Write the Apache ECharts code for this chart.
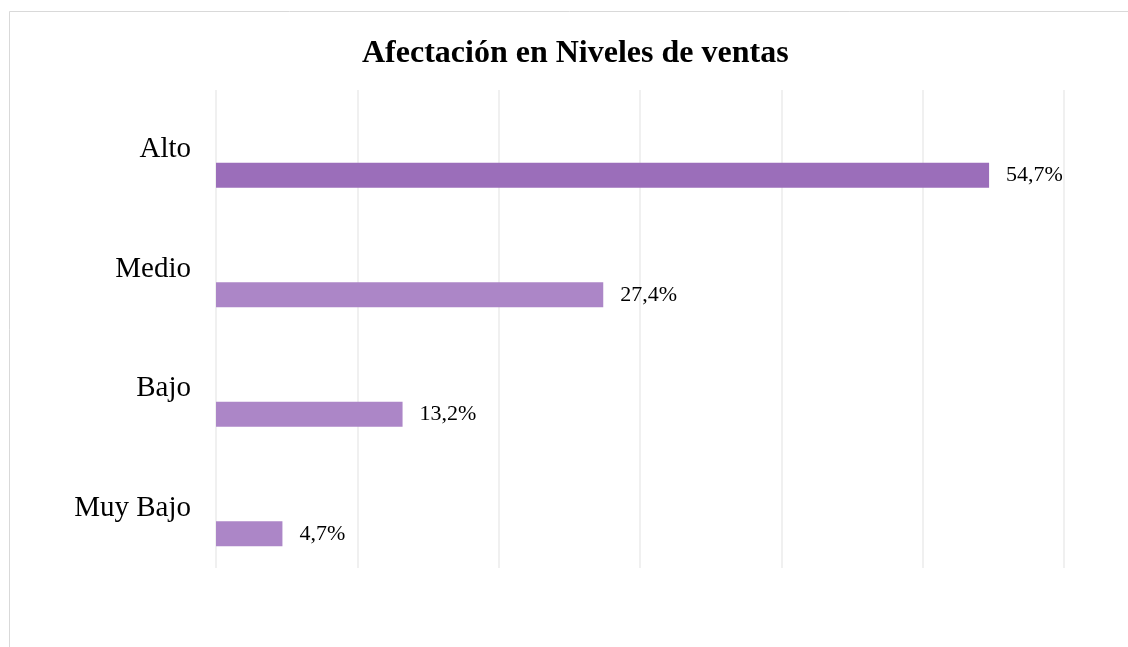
<!DOCTYPE html>
<html>
<head>
<meta charset="utf-8">
<script src="https://cdn.jsdelivr.net/npm/echarts@6/dist/echarts.min.js"></script>
<style>
  html, body { margin: 0; padding: 0; background: #fff; }
  #chart { width: 1128px; height: 647px; }
</style>
</head>
<body>
<div id="chart"></div>
<script>
// data (bottom to top on the category axis)
var categories = ['Muy Bajo', 'Bajo', 'Medio', 'Alto'];
var values = [4.7, 13.2, 27.4, 54.7];
var highlight = 'Alto';

var chart = echarts.init(document.getElementById('chart'));
var serif = "'Liberation Serif', 'Times New Roman', serif";

var option = {
    backgroundColor: '#fff',
    animation: false,
    title: {
        text: 'Afectación en Niveles de ventas',
        left: 357,
        top: 33,
        textStyle: { fontFamily: serif, fontSize: 32, fontWeight: 'bold', color: '#000' }
    },
    graphic: [{
        type: 'rect',
        shape: { x: 9.5, y: 11.5, width: 1140, height: 660 },
        style: { fill: 'none', stroke: '#d9d9d9', lineWidth: 1 },
        silent: true
    }],
    grid: { left: 216, right: 64, top: 90, bottom: 79 },
    xAxis: {
        type: 'value',
        min: 0,
        max: 60,
        interval: 10,
        axisLabel: { show: false },
        axisLine: { show: false },
        axisTick: { show: false },
        splitLine: { lineStyle: { color: '#ebebeb', width: 1.5 } }
    },
    yAxis: {
        type: 'category',
        data: categories,
        axisLine: { show: false },
        axisTick: { show: false },
        axisLabel: {
            margin: 25,
            padding: [8, 0, 0, 0],
            fontFamily: serif,
            fontSize: 29,
            color: '#000'
        }
    },
    series: [
        {
            // empty slot so the bar sits below the category label
            type: 'bar',
            data: values.map(function () { return '-'; }),
            barWidth: 25,
            barGap: '104%',
            silent: true
        },
        {
            type: 'bar',
            data: values,
            barWidth: 25,
            barGap: '104%',
            itemStyle: {
                color: function (p) {
                    return p.name === highlight ? '#9b6eba' : '#ac86c7';
                }
            },
            label: {
                show: true,
                position: 'right',
                distance: 17,
                padding: [3, 0, 0, 0],
                fontFamily: serif,
                fontSize: 22,
                color: '#000',
                formatter: function (p) {
                    return p.value.toFixed(1).replace('.', ',') + '%';
                }
            }
        }
    ]
};

chart.setOption(option);
</script>
</body>
</html>
